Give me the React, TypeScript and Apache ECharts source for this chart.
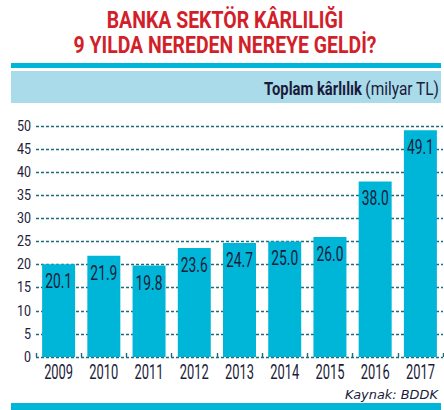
import { useEffect, useRef } from 'react';
import * as echarts from 'echarts';

const years = ['2009', '2010', '2011', '2012', '2013', '2014', '2015', '2016', '2017'];
const profits = [20.1, 21.9, 19.8, 23.6, 24.7, 25.0, 26.0, 38.0, 49.1];
const yTicks = [0, 5, 10, 15, 20, 25, 30, 35, 40, 45, 50];
const titleLines = ['BANKA SEKTÖR KÂRLILIĞI', '9 YILDA NEREDEN NEREYE GELDİ?'];
const unitBold = 'Toplam kârlılık';
const unitRest = '(milyar TL)';
const sourceText = 'Kaynak: BDDK';

const ink = '#1b1c3a';
const cyan = '#00b6d8';
const lightBand = '#a9dbea';
const red = '#d21f2a';
const gridColor = '#1f6b7e';

// the original uses a condensed face; squeeze Roboto to the same widths
const measure = (text: string, font: string) => {
  const ctx = document.createElement('canvas').getContext('2d')!;
  ctx.font = font;
  return ctx.measureText(text).width || 1;
};
const squeeze = (text: string, font: string, width: number) => width / measure(text, font);

const titleFont = 'bold 23px Roboto';
const bandBoldFont = 'bold 18px Roboto';
const bandFont = '18px Roboto';
const xFont = '21px Roboto';
const yFont = '14px Roboto';
const valFont = '20px Roboto';
const srcFont = 'italic 13px "DejaVu Sans"';

export default function App() {
  const chartRef = useRef<HTMLDivElement>(null);

  useEffect(() => {
    if (!chartRef.current) return;
    const chart = echarts.init(chartRef.current, undefined, { renderer: 'svg' });

    const xScale = squeeze('2009', xFont, 29);
    const yScale = squeeze('50', yFont, 14);
    const valScale = squeeze('20.1', valFont, 27);

    const option: echarts.EChartsOption = {
      animation: false,
      backgroundColor: '#ffffff',
      grid: { left: 36, right: 1, top: 126, bottom: 53 },
      xAxis: {
        type: 'category',
        data: years,
        axisLine: { show: false },
        axisTick: { show: true, inside: true, length: 4, lineStyle: { color: gridColor, width: 1.4 } },
        axisLabel: { show: false },
      },
      yAxis: {
        type: 'value',
        min: 0,
        max: 50,
        interval: 5,
        axisLine: { show: false },
        axisTick: { show: false },
        axisLabel: { show: false },
        splitLine: {
          lineStyle: { color: gridColor, width: 1.4, type: [3, 2] },
        },
      },
      series: [
        {
          type: 'bar',
          data: profits,
          barWidth: 33,
          itemStyle: { color: cyan },
          z: 2,
        },
        {
          // value labels inside bar tops
          type: 'custom',
          data: profits.map((v, i) => [i, v]),
          z: 3,
          renderItem: (_params: any, api: any) => {
            const p = api.coord([api.value(0), api.value(1)]);
            return {
              type: 'text',
              x: p[0],
              y: p[1] + 17,
              scaleX: valScale,
              style: {
                text: Number(api.value(1)).toFixed(1),
                font: valFont,
                fill: ink,
                align: 'center',
                verticalAlign: 'middle',
              },
            };
          },
        } as any,
        {
          // year labels
          type: 'custom',
          data: years.map((_y, i) => [i, 0]),
          renderItem: (_params: any, api: any) => {
            const i = api.value(0);
            const p = api.coord([i, 0]);
            return {
              type: 'text',
              x: p[0],
              y: p[1] + 15,
              scaleX: xScale,
              style: { text: years[i], font: xFont, fill: ink, align: 'center', verticalAlign: 'middle' },
            };
          },
        } as any,
        {
          // y tick labels
          type: 'custom',
          data: yTicks.map((v) => [0, v]),
          renderItem: (_params: any, api: any) => {
            const v = api.value(1);
            const p = api.coord([0, v]);
            const band = api.size([1, 0])[0];
            return {
              type: 'text',
              x: p[0] - band / 2 - 5,
              y: p[1],
              scaleX: yScale,
              style: { text: String(v), font: yFont, fill: ink, align: 'right', verticalAlign: 'middle' },
            };
          },
        } as any,
      ],
      graphic: [
        {
          type: 'text',
          x: 225,
          y: 20,
          scaleX: squeeze(titleLines[0], titleFont, 237),
          style: { text: titleLines[0], fill: red, font: titleFont, align: 'center', verticalAlign: 'middle' },
        },
        {
          type: 'text',
          x: 225,
          y: 45,
          scaleX: squeeze(titleLines[1], titleFont, 303),
          style: { text: titleLines[1], fill: red, font: titleFont, align: 'center', verticalAlign: 'middle' },
        },
        { type: 'rect', shape: { x: 11, y: 63, width: 430, height: 5 }, style: { fill: cyan } },
        { type: 'rect', shape: { x: 11, y: 71, width: 430, height: 32 }, style: { fill: lightBand } },
        {
          type: 'text',
          x: 362,
          y: 88.5,
          scaleX: squeeze(unitBold, bandBoldFont, 98),
          style: { text: unitBold, fill: ink, font: bandBoldFont, align: 'right', verticalAlign: 'middle' },
        },
        {
          type: 'text',
          x: 439,
          y: 88.5,
          scaleX: squeeze(unitRest, bandFont, 74),
          style: { text: unitRest, fill: ink, font: bandFont, align: 'right', verticalAlign: 'middle' },
        },
        {
          type: 'text',
          x: 438,
          y: 394,
          scaleX: squeeze(sourceText, srcFont, 93),
          style: { text: sourceText, fill: ink, font: srcFont, align: 'right', verticalAlign: 'middle' },
        },
        { type: 'rect', shape: { x: 11, y: 403, width: 430, height: 7 }, style: { fill: cyan } },
      ],
    };

    chart.setOption(option);
    return () => chart.dispose();
  }, []);

  return (
    <div
      ref={chartRef}
      style={{ position: 'absolute', left: 0, top: 0, width: 444, height: 410 }}
    />
  );
}
